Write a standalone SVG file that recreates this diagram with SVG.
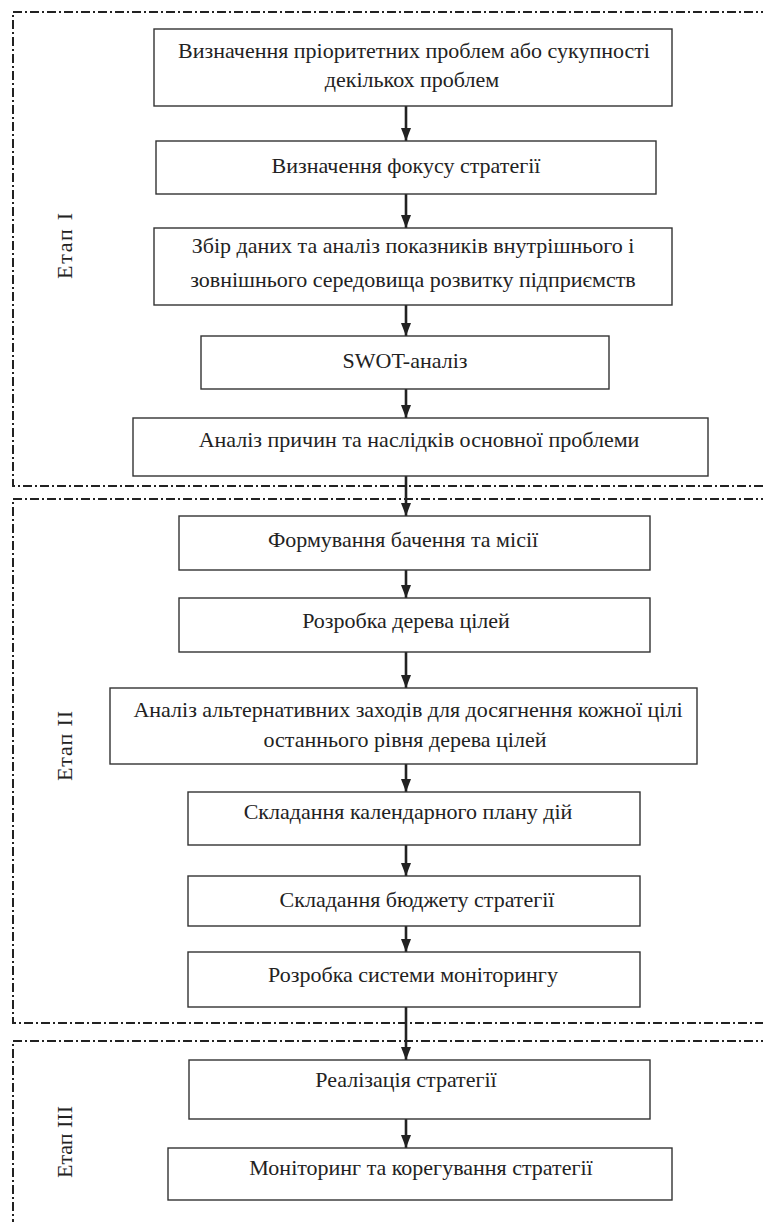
<svg xmlns="http://www.w3.org/2000/svg" width="763" height="1222" viewBox="0 0 763 1222">
<style>
.box{fill:#fff;stroke:#333;stroke-width:1.4}
text{font-family:'Liberation Serif','Times New Roman',serif;font-size:22px;fill:#222;text-anchor:middle}
.frame{fill:none;stroke:#222;stroke-width:2;stroke-dasharray:9 3 2 3}
.conn{stroke:#222;stroke-width:2.6;fill:none}
</style>
<defs>
<marker id="ahd" markerUnits="userSpaceOnUse" markerWidth="14" markerHeight="12" refX="13" refY="6" orient="auto" viewBox="0 0 14 12">
<path d="M0,1 L13,6 L0,11 Z" fill="#222"/>
</marker>
</defs>

<g id="frames">
<path class="frame" d="M770,12 H13 V486 H770"/>
<path class="frame" d="M770,499 H13 V1023 H770"/>
<path class="frame" d="M770,1041 H13 V1230"/>
</g>

<g id="stage1"><text transform="translate(72,246) rotate(-90)" textLength="66">Етап І</text></g>
<g id="stage2"><text transform="translate(72,746) rotate(-90)" textLength="70">Етап ІІ</text></g>
<g id="stage3"><text transform="translate(72,1142) rotate(-90)" textLength="72">Етап ІІІ</text></g>

<g id="connectors">
<line class="conn" x1="406" y1="106" x2="406" y2="141" marker-end="url(#ahd)"/>
<line class="conn" x1="406" y1="194" x2="406" y2="228" marker-end="url(#ahd)"/>
<line class="conn" x1="406" y1="305" x2="406" y2="336" marker-end="url(#ahd)"/>
<line class="conn" x1="406" y1="389" x2="406" y2="418" marker-end="url(#ahd)"/>
<line class="conn" x1="406" y1="476" x2="406" y2="516" marker-end="url(#ahd)"/>
<line class="conn" x1="406" y1="570" x2="406" y2="598" marker-end="url(#ahd)"/>
<line class="conn" x1="406" y1="652" x2="406" y2="688" marker-end="url(#ahd)"/>
<line class="conn" x1="406" y1="764" x2="406" y2="792" marker-end="url(#ahd)"/>
<line class="conn" x1="406" y1="845" x2="406" y2="876" marker-end="url(#ahd)"/>
<line class="conn" x1="406" y1="926" x2="406" y2="952" marker-end="url(#ahd)"/>
<line class="conn" x1="406" y1="1007" x2="406" y2="1060" marker-end="url(#ahd)"/>
<line class="conn" x1="406" y1="1118" x2="406" y2="1148" marker-end="url(#ahd)"/>
</g>

<g id="n1"><rect class="box" x="154" y="29" width="518" height="77"/>
<text x="414" y="58">Визначення пріоритетних проблем або сукупності</text>
<text x="412" y="87">декількох проблем</text></g>

<g id="n2"><rect class="box" x="156" y="141" width="500" height="53"/>
<text x="406" y="173">Визначення фокусу стратегії</text></g>

<g id="n3"><rect class="box" x="154" y="228" width="518" height="77"/>
<text x="413" y="253">Збір даних та аналіз показників внутрішнього і</text>
<text x="413" y="287">зовнішнього середовища розвитку підприємств</text></g>

<g id="n4"><rect class="box" x="201" y="336" width="408" height="53"/>
<text x="405" y="368">SWOT-аналіз</text></g>

<g id="n5"><rect class="box" x="133" y="418" width="575" height="58"/>
<text x="419" y="447">Аналіз причин та наслідків основної проблеми</text></g>

<g id="n6"><rect class="box" x="179" y="516" width="471" height="54"/>
<text x="403" y="547">Формування бачення та місії</text></g>

<g id="n7"><rect class="box" x="179" y="598" width="471" height="54"/>
<text x="406" y="628">Розробка дерева цілей</text></g>

<g id="n8"><rect class="box" x="110" y="688" width="587" height="76"/>
<text x="408" y="717">Аналіз альтернативних заходів для досягнення кожної цілі</text>
<text x="405" y="747">останнього рівня дерева цілей</text></g>

<g id="n9"><rect class="box" x="188" y="792" width="452" height="53"/>
<text x="408" y="819">Складання календарного плану дій</text></g>

<g id="n10"><rect class="box" x="188" y="876" width="452" height="50"/>
<text x="417" y="907">Складання бюджету стратегії</text></g>

<g id="n11"><rect class="box" x="188" y="952" width="452" height="55"/>
<text x="413" y="982">Розробка системи моніторингу</text></g>

<g id="n12"><rect class="box" x="189" y="1060" width="461" height="59"/>
<text x="406" y="1087">Реалізація стратегії</text></g>

<g id="n13"><rect class="box" x="168" y="1148" width="504" height="52"/>
<text x="421" y="1175">Моніторинг та корегування стратегії</text></g>
</svg>
